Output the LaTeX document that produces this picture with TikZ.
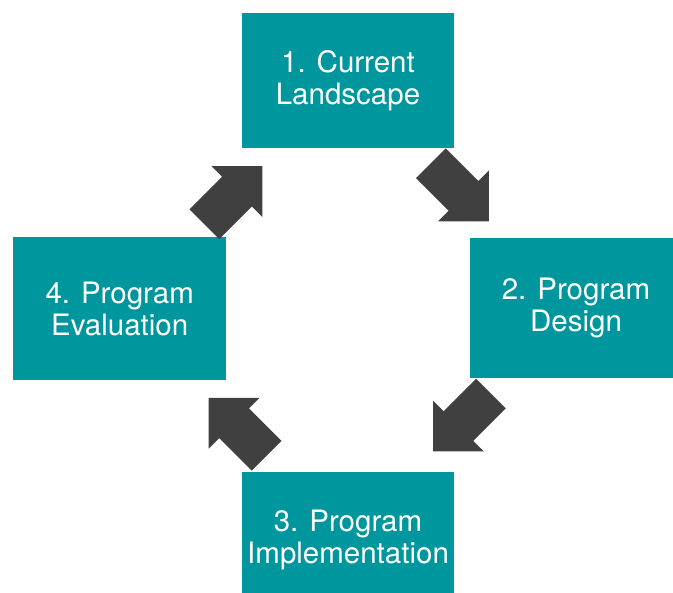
\documentclass[tikz,border=0pt]{standalone}
\usepackage{fontspec}
\setmainfont{TeX Gyre Heros}
\definecolor{stageteal}{HTML}{00969E}
\definecolor{arrowgray}{HTML}{404040}
\tikzset{
  stagebox/.style={fill=stageteal, text=white, align=center,
    minimum width=212pt, inner sep=0pt,
    font=\fontsize{29.5}{32}\selectfont},
  blockarrow/.pic={
    \fill[arrowgray] (-41pt,21pt) -- (5pt,21pt) -- (5pt,36pt) -- (41pt,0pt)
      -- (5pt,-36pt) -- (5pt,-21pt) -- (-41pt,-21pt) -- cycle;
  }
}
\begin{document}
\begin{tikzpicture}[x=1pt,y=1pt]
  \useasboundingbox (0,0) rectangle (673,-593);
  \clip (0,0) rectangle (673,-593);
  % the four stages of the cycle
  \node[stagebox, minimum height=135pt] (current) at (348,-80.5) {1. Current\\Landscape};
  \node[stagebox, minimum height=140pt] (design) at (576,-308.3) {2. Program\\Design};
  \node[stagebox, minimum height=135pt] (impl) at (348,-540) {3. Program\\Implementation};
  \node[stagebox, minimum width=213pt, minimum height=143pt] (eval) at (119.7,-308.5) {4. Program\\Evaluation};
  % block arrows leading from one stage to the next
  \pic[rotate=-45] (a12) at (459.9,-192.3) {blockarrow};
  \pic[rotate=-135] (a23) at (462,-422.5) {blockarrow};
  \pic[rotate=135] (a34) at (237.7,-426.8) {blockarrow};
  \pic[rotate=45] (a41) at (233.4,-195.2) {blockarrow};
\end{tikzpicture}
\end{document}
